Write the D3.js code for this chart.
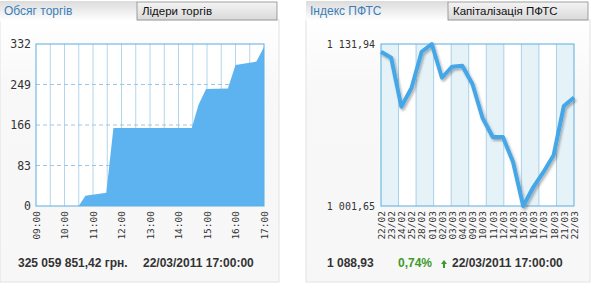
<html>
<head>
<meta charset="utf-8">
<style>
  body { margin: 0; background: #fff; font-family: "Liberation Sans", Arial, sans-serif; }
  .tick text { font-family: "DejaVu Sans Mono", monospace; fill: #333; }
  .domain { display: none; }
</style>
</head>
<body>
<svg id="chart" width="591" height="285"></svg>
<script src="https://cdn.jsdelivr.net/npm/d3@7"></script>
<script>
// left panel: trading volume (mln UAH), 22/03/2011
const volTimes = ["09:00", "10:30", "10:44", "11:28", "11:43", "14:28", "14:42", "14:58", "15:44", "16:00", "16:44", "17:00"]
const volValues = [0, 0, 21, 27, 160, 160, 207, 240, 241, 289, 296, 326]
const volTicks = [0, 83, 166, 249, 332]
const hourTicks = ["09:00", "10:00", "11:00", "12:00", "13:00", "14:00", "15:00", "16:00", "17:00"]

// right panel: PFTS index
const idxDates = ["22/02", "23/02", "24/02", "25/02", "28/02", "01/03", "02/03", "03/03", "04/03", "09/03",
  "10/03", "11/03", "12/03", "14/03", "15/03", "16/03", "17/03", "18/03", "21/03", "22/03"]
const idxValues = [1125.7, 1120.9, 1081.5, 1096.5, 1125.7, 1131.94, 1104.8, 1113.7, 1114.5, 1099.8,
  1072.4, 1057.1, 1057.1, 1037.0, 1001.65, 1016.9, 1029.0, 1042.7, 1082.1, 1088.93]
const idxTicks = [1001.65, 1131.94]
const idxBands = d3.range(11)

const svg = d3.select("#chart")
const parse = d3.timeParse("%H:%M")

let defs = svg.append("defs")
let g1 = defs.append("linearGradient").attr("id", "tabOn").attr("x1", 0).attr("y1", 0).attr("x2", 0).attr("y2", 1)
g1.append("stop").attr("offset", "0%").attr("stop-color", "#dcdcdc")
g1.append("stop").attr("offset", "100%").attr("stop-color", "#ffffff")
let g2 = defs.append("linearGradient").attr("id", "tabOff").attr("x1", 0).attr("y1", 0).attr("x2", 0).attr("y2", 1)
g2.append("stop").attr("offset", "0%").attr("stop-color", "#f4f4f4")
g2.append("stop").attr("offset", "100%").attr("stop-color", "#d9d9d9")
let g3 = defs.append("linearGradient").attr("id", "panel").attr("x1", 0).attr("y1", 0).attr("x2", 0).attr("y2", 1)
g3.append("stop").attr("offset", "0%").attr("stop-color", "#ffffff")
g3.append("stop").attr("offset", "25%").attr("stop-color", "#f8f8f8")
g3.append("stop").attr("offset", "100%").attr("stop-color", "#f7f7f7")
let sh = defs.append("filter").attr("id", "shadow").attr("x", "-10%").attr("y", "-10%").attr("width", "120%").attr("height", "130%")
sh.append("feDropShadow").attr("dx", 1.5).attr("dy", 2).attr("stdDeviation", 1.2)
  .attr("flood-color", "#000").attr("flood-opacity", 0.3)

function drawPanel(x0, x1, tabSplit, tabA, tabB) {
  svg.append("rect").attr("x", x0).attr("y", 20).attr("width", x1 - x0).attr("height", 262)
    .attr("fill", "url(#panel)").attr("stroke", "#e2e2e2")
  svg.append("rect").attr("x", x0).attr("y", 1).attr("width", tabSplit - x0).attr("height", 20)
    .attr("fill", "url(#tabOn)")
  svg.append("rect").attr("x", tabSplit).attr("y", 2).attr("width", x1 - tabSplit - 2).attr("height", 18)
    .attr("fill", "url(#tabOff)").attr("stroke", "#8a8a8a").attr("stroke-width", 0.8)
  svg.append("text").attr("x", x0 + 4).attr("y", 15).attr("font-size", 12).attr("fill", "#3b7fb8").text(tabA)
  svg.append("text").attr("x", tabSplit + 5).attr("y", 15).attr("font-size", 11.5).attr("fill", "#111").text(tabB)
}

drawPanel(0, 279, 137, "Обсяг торгів", "Лідери торгів")
drawPanel(306, 590, 448, "Індекс ПФТС", "Капіталізація ПФТС")

// ---- left chart
let plotTop = 44, plotBottom = 206
let x1 = d3.scaleTime().domain([parse("09:00"), parse("17:00")]).range([36, 264])
let y1 = d3.scaleLinear().domain([0, 332]).range([plotBottom, plotTop])
let left = svg.append("g")

left.append("rect").attr("x", 36).attr("y", plotTop).attr("width", 228).attr("height", plotBottom - plotTop).attr("fill", "#fff")
left.selectAll("line.vg").data(d3.timeMinute.every(30).range(parse("09:30"), parse("17:00")))
  .enter().append("line").attr("class", "vg")
  .attr("x1", d => x1(d)).attr("x2", d => x1(d)).attr("y1", plotTop).attr("y2", plotBottom)
  .attr("stroke", "#b4d6ec")
left.selectAll("line.hg").data(volTicks.slice(1, 4))
  .enter().append("line").attr("class", "hg")
  .attr("x1", 36).attr("x2", 264).attr("y1", d => y1(d)).attr("y2", d => y1(d))
  .attr("stroke", "#9cc8e6").attr("stroke-dasharray", "4,3")

let area = d3.area().x((d, i) => x1(parse(volTimes[i]))).y0(plotBottom).y1(d => y1(d))
left.append("path").attr("d", area(volValues)).attr("fill", "#5db3ef")
left.append("rect").attr("x", 36).attr("y", plotTop).attr("width", 228).attr("height", plotBottom - plotTop)
  .attr("fill", "none").attr("stroke", "#5aaee0")

left.append("g").attr("transform", "translate(36,0)")
  .call(d3.axisLeft(y1).tickValues(volTicks).tickSize(0).tickPadding(5))
  .selectAll("text").attr("font-size", 11.5)
left.append("g").attr("transform", `translate(0,${plotBottom})`)
  .call(d3.axisBottom(x1).tickValues(hourTicks.map(parse)).tickFormat(d3.timeFormat("%H:%M")).tickSize(0))
  .selectAll("text").attr("font-size", 9.5)
  .attr("transform", "rotate(-90)").attr("text-anchor", "end").attr("dx", "-5").attr("dy", "0.35em").attr("x", 0).attr("y", 0)

svg.append("text").attr("x", 18).attr("y", 267).attr("font-size", 12).attr("font-weight", "bold").attr("fill", "#333")
  .text("325 059 851,42 грн.")
svg.append("text").attr("x", 143).attr("y", 267).attr("font-size", 12).attr("font-weight", "bold").attr("fill", "#333")
  .text("22/03/2011 17:00:00")

// ---- right chart
let x2 = d3.scalePoint().domain(idxDates).range([381, 574])
let xb = d3.scaleLinear().domain([0, 11]).range([381, 574])
let y2 = d3.scaleLinear().domain([1001.65, 1131.94]).range([plotBottom, plotTop])
let right = svg.append("g")

right.append("rect").attr("x", 381).attr("y", plotTop).attr("width", 193).attr("height", plotBottom - plotTop).attr("fill", "#fff")
right.selectAll("rect.band").data(idxBands.filter(d => d % 2 == 0))
  .enter().append("rect").attr("class", "band")
  .attr("x", d => xb(d)).attr("width", d => xb(d + 1) - xb(d)).attr("y", plotTop).attr("height", plotBottom - plotTop)
  .attr("fill", "#e5f2f8")
right.selectAll("line.vg").data(idxBands.slice(1))
  .enter().append("line").attr("class", "vg")
  .attr("x1", d => xb(d)).attr("x2", d => xb(d)).attr("y1", plotTop).attr("y2", plotBottom)
  .attr("stroke", "#a9d0e8")
right.append("rect").attr("x", 381).attr("y", plotTop).attr("width", 193).attr("height", plotBottom - plotTop)
  .attr("fill", "none").attr("stroke", "#5aaee0")

let line = d3.line().x((d, i) => x2(idxDates[i])).y(d => y2(d))
right.append("path").attr("d", line(idxValues)).attr("fill", "none")
  .attr("stroke", "#45a7e8").attr("stroke-width", 4).attr("stroke-linejoin", "round")
  .attr("filter", "url(#shadow)")

let fmt = v => d3.format(",.2f")(v).replace(/,/g, " ").replace(".", ",")
right.append("g").attr("transform", "translate(381,0)")
  .call(d3.axisLeft(y2).tickValues(idxTicks).tickFormat(fmt).tickSize(0).tickPadding(6))
  .selectAll("text").attr("font-size", 10)
right.append("g").attr("transform", `translate(0,${plotBottom})`)
  .call(d3.axisBottom(x2).tickSize(0))
  .selectAll("text").attr("font-size", 9.5)
  .attr("transform", "rotate(-90)").attr("text-anchor", "end").attr("dx", "-5").attr("dy", "0.35em").attr("x", 0).attr("y", 0)

svg.append("text").attr("x", 327).attr("y", 267).attr("font-size", 12).attr("font-weight", "bold").attr("fill", "#333")
  .text("1 088,93")
svg.append("text").attr("x", 398).attr("y", 267).attr("font-size", 12).attr("font-weight", "bold").attr("fill", "#3d9a2a")
  .text("0,74%")
svg.append("path").attr("d", "M444,260 l-3,4 h2 v4 h2 v-4 h2 z").attr("fill", "#3d9a2a")
svg.append("text").attr("x", 452).attr("y", 267).attr("font-size", 12).attr("font-weight", "bold").attr("fill", "#333")
  .text("22/03/2011 17:00:00")
</script>
</body>
</html>
